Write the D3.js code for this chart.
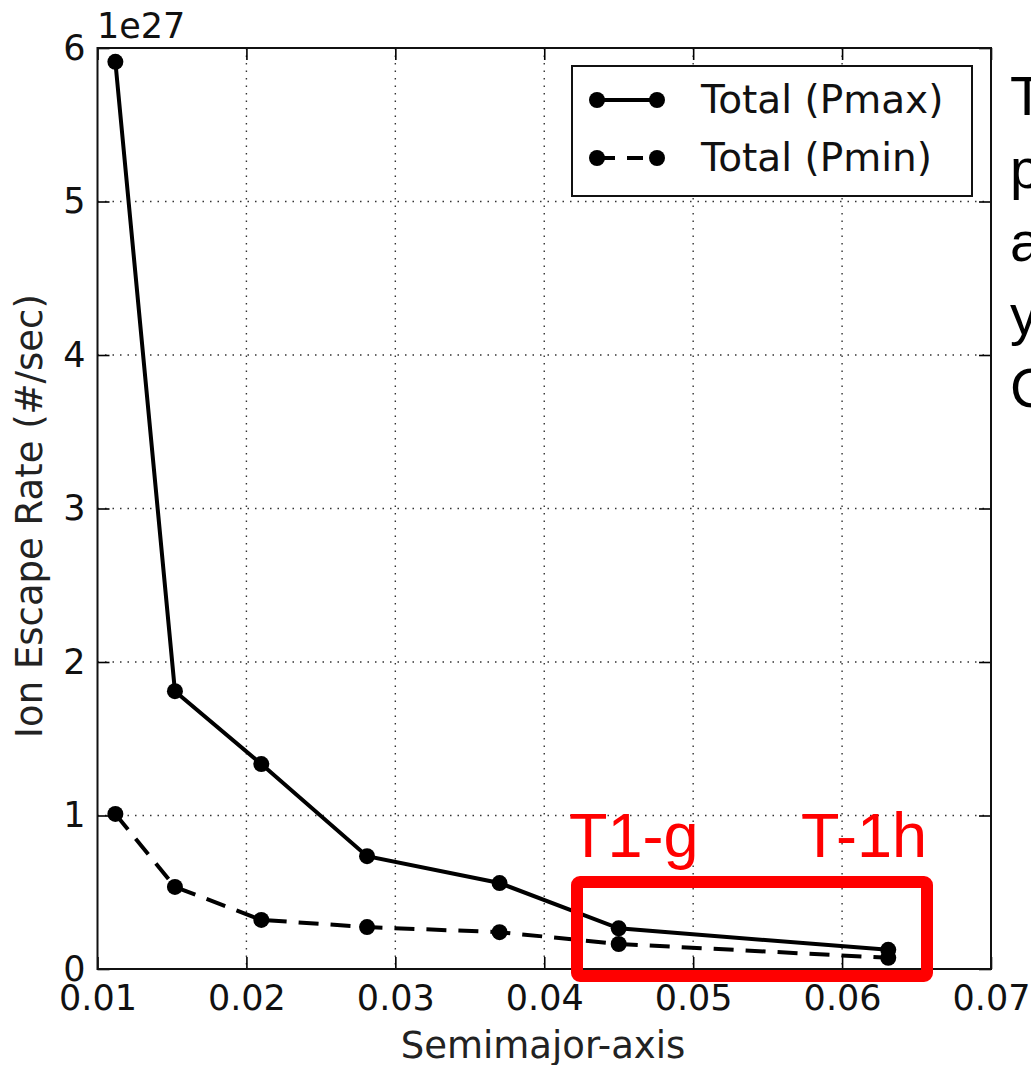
<!DOCTYPE html>
<html lang="en">
  <head>
    <meta charset="UTF-8" />
    <title>Ion Escape Rate vs Semimajor-axis</title>
    <script src="https://cdn.jsdelivr.net/npm/d3@7/dist/d3.min.js"></script>
    <style>
      body { margin: 0; background: #fff; overflow: hidden; }
    </style>
  </head>
  <body>
    <div id='app'></div>

    <script>
  // data (escape rate in units of 1e27 #/sec)
  const semimajor = [0.0112, 0.0152, 0.0210, 0.0281, 0.0370, 0.0450, 0.0631]
  const totalPmax = [5.91, 1.81, 1.335, 0.735, 0.56, 0.265, 0.125]
  const totalPmin = [1.01, 0.535, 0.32, 0.273, 0.24, 0.163, 0.073]
  const xTicks = [0.01, 0.02, 0.03, 0.04, 0.05, 0.06, 0.07]
  const yTicks = [0, 1, 2, 3, 4, 5, 6]
  const seriesNames = ['Total (Pmax)', 'Total (Pmin)']
  const boxLabels = ['T1-g', 'T-1h']
  const sideText = ['T', 'p', 'a', 'y', 'C']

  const width = 1031
  const height = 1065
  const plot = { left: 97.5, right: 991, top: 48, bottom: 969 }
  const tickFont = 'DejaVu Sans, sans-serif'

  const x = d3.scaleLinear().domain([0.01, 0.07]).range([plot.left, plot.right])
  const y = d3.scaleLinear().domain([0, 6]).range([plot.bottom, plot.top])

  const svg = d3.select('#app').append('svg')
    .attr('width', width)
    .attr('height', height)
    .style('background', '#fff')

  // grid
  const grid = svg.append('g')
  grid.selectAll('.gx').data(xTicks.slice(1, -1)).join('line')
    .attr('x1', d => x(d)).attr('x2', d => x(d))
    .attr('y1', plot.top).attr('y2', plot.bottom)
    .attr('stroke', '#333').attr('stroke-width', 1.4).attr('stroke-dasharray', '1.5,6')
  grid.selectAll('.gy').data(yTicks.slice(1, -1)).join('line')
    .attr('y1', d => y(d)).attr('y2', d => y(d))
    .attr('x1', plot.left).attr('x2', plot.right)
    .attr('stroke', '#333').attr('stroke-width', 1.4).attr('stroke-dasharray', '1.5,6')

  // axes (classic style: ticks inward on all four sides)
  const tickLen = 12
  const axes = [
    { gen: d3.axisBottom(x), pos: `translate(0,${plot.bottom})`, labels: true },
    { gen: d3.axisTop(x), pos: `translate(0,${plot.top})`, labels: false },
    { gen: d3.axisLeft(y), pos: `translate(${plot.left},0)`, labels: true },
    { gen: d3.axisRight(y), pos: `translate(${plot.right},0)`, labels: false }
  ]
  axes.forEach((a, i) => {
    const isX = i < 2
    a.gen.tickValues(isX ? xTicks : yTicks)
      .tickSizeInner(-tickLen).tickSizeOuter(0)
      .tickPadding(isX ? 16 : 12)
      .tickFormat(isX ? d3.format('.2f') : d3.format('d'))
    const g = svg.append('g').attr('transform', a.pos).call(a.gen)
    g.select('.domain').remove()
    g.selectAll('line').attr('stroke', '#000').attr('stroke-width', 1.6)
    g.selectAll('text')
      .style('font-family', tickFont)
      .style('font-size', '35px')
      .attr('fill', '#111')
    if (!a.labels) g.selectAll('text').remove()
  })

  // frame
  svg.append('rect')
    .attr('x', plot.left).attr('y', plot.top)
    .attr('width', plot.right - plot.left).attr('height', plot.bottom - plot.top)
    .attr('fill', 'none').attr('stroke', '#111').attr('stroke-width', 2)

  // offset text
  svg.append('text')
    .attr('x', 97).attr('y', 38)
    .style('font-family', tickFont).style('font-size', '35px')
    .attr('fill', '#111')
    .text('1e27')

  // axis labels
  svg.append('text')
    .attr('x', 543).attr('y', 1058)
    .attr('text-anchor', 'middle')
    .style('font-family', tickFont).style('font-size', '37px')
    .attr('fill', '#222')
    .text('Semimajor-axis')
  svg.append('text')
    .attr('transform', 'translate(42,516) rotate(-90)')
    .attr('text-anchor', 'middle')
    .style('font-family', tickFont).style('font-size', '37px')
    .attr('fill', '#222')
    .text('Ion Escape Rate (#/sec)')

  // series
  const series = [
    { name: seriesNames[0], values: totalPmax, dash: null },
    { name: seriesNames[1], values: totalPmin, dash: '20,12' }
  ]
  const line = d3.line().x(d => x(d[0])).y(d => y(d[1]))

  series.forEach(s => {
    const pts = d3.zip(semimajor, s.values)
    svg.append('path')
      .datum(pts)
      .attr('d', line)
      .attr('fill', 'none')
      .attr('stroke', '#000')
      .attr('stroke-width', 4)
      .attr('stroke-dasharray', s.dash)
    svg.append('g').selectAll('circle').data(pts).join('circle')
      .attr('cx', d => x(d[0])).attr('cy', d => y(d[1]))
      .attr('r', 8).attr('fill', '#000')
  })

  // legend
  const legend = svg.append('g').attr('transform', 'translate(572,66)')
  legend.append('rect')
    .attr('width', 400).attr('height', 130)
    .attr('fill', '#fff').attr('stroke', '#111').attr('stroke-width', 2)
  series.forEach((s, i) => {
    const ly = 34 + i * 58
    legend.append('line')
      .attr('x1', 25).attr('x2', 85).attr('y1', ly).attr('y2', ly)
      .attr('stroke', '#000').attr('stroke-width', 4)
      .attr('stroke-dasharray', s.dash ? '16,12' : null)
      .attr('stroke-dashoffset', s.dash ? -2 : null)
    legend.selectAll(null).data([25, 85]).join('circle')
      .attr('cx', d => d).attr('cy', ly).attr('r', 8).attr('fill', '#000')
    legend.append('text')
      .attr('x', 129).attr('y', ly + 13)
      .style('font-family', tickFont).style('font-size', '39px')
      .attr('fill', '#111')
      .text(s.name)
  })

  // red highlight box and labels
  svg.append('rect')
    .attr('x', 577).attr('y', 882).attr('width', 350).attr('height', 94)
    .attr('rx', 3)
    .attr('fill', 'none').attr('stroke', '#ff0000').attr('stroke-width', 12)
    .attr('stroke-linejoin', 'round')
  svg.selectAll('.boxlabel').data(boxLabels).join('text')
    .attr('x', (d, i) => [569, 801][i])
    .attr('y', 857)
    .style('font-family', 'Liberation Sans, Arial, sans-serif')
    .style('font-size', '63px')
    .attr('fill', '#ff0000')
    .text(d => d)

  // clipped slide text on the right
  svg.selectAll('.side').data(sideText).join('text')
    .attr('x', 1010)
    .attr('y', (d, i) => 115 + i * 73)
    .style('font-family', 'Liberation Sans, Arial, sans-serif')
    .style('font-size', '56px')
    .attr('fill', '#000')
    .text(d => d)
    </script>
  </body>
</html>
